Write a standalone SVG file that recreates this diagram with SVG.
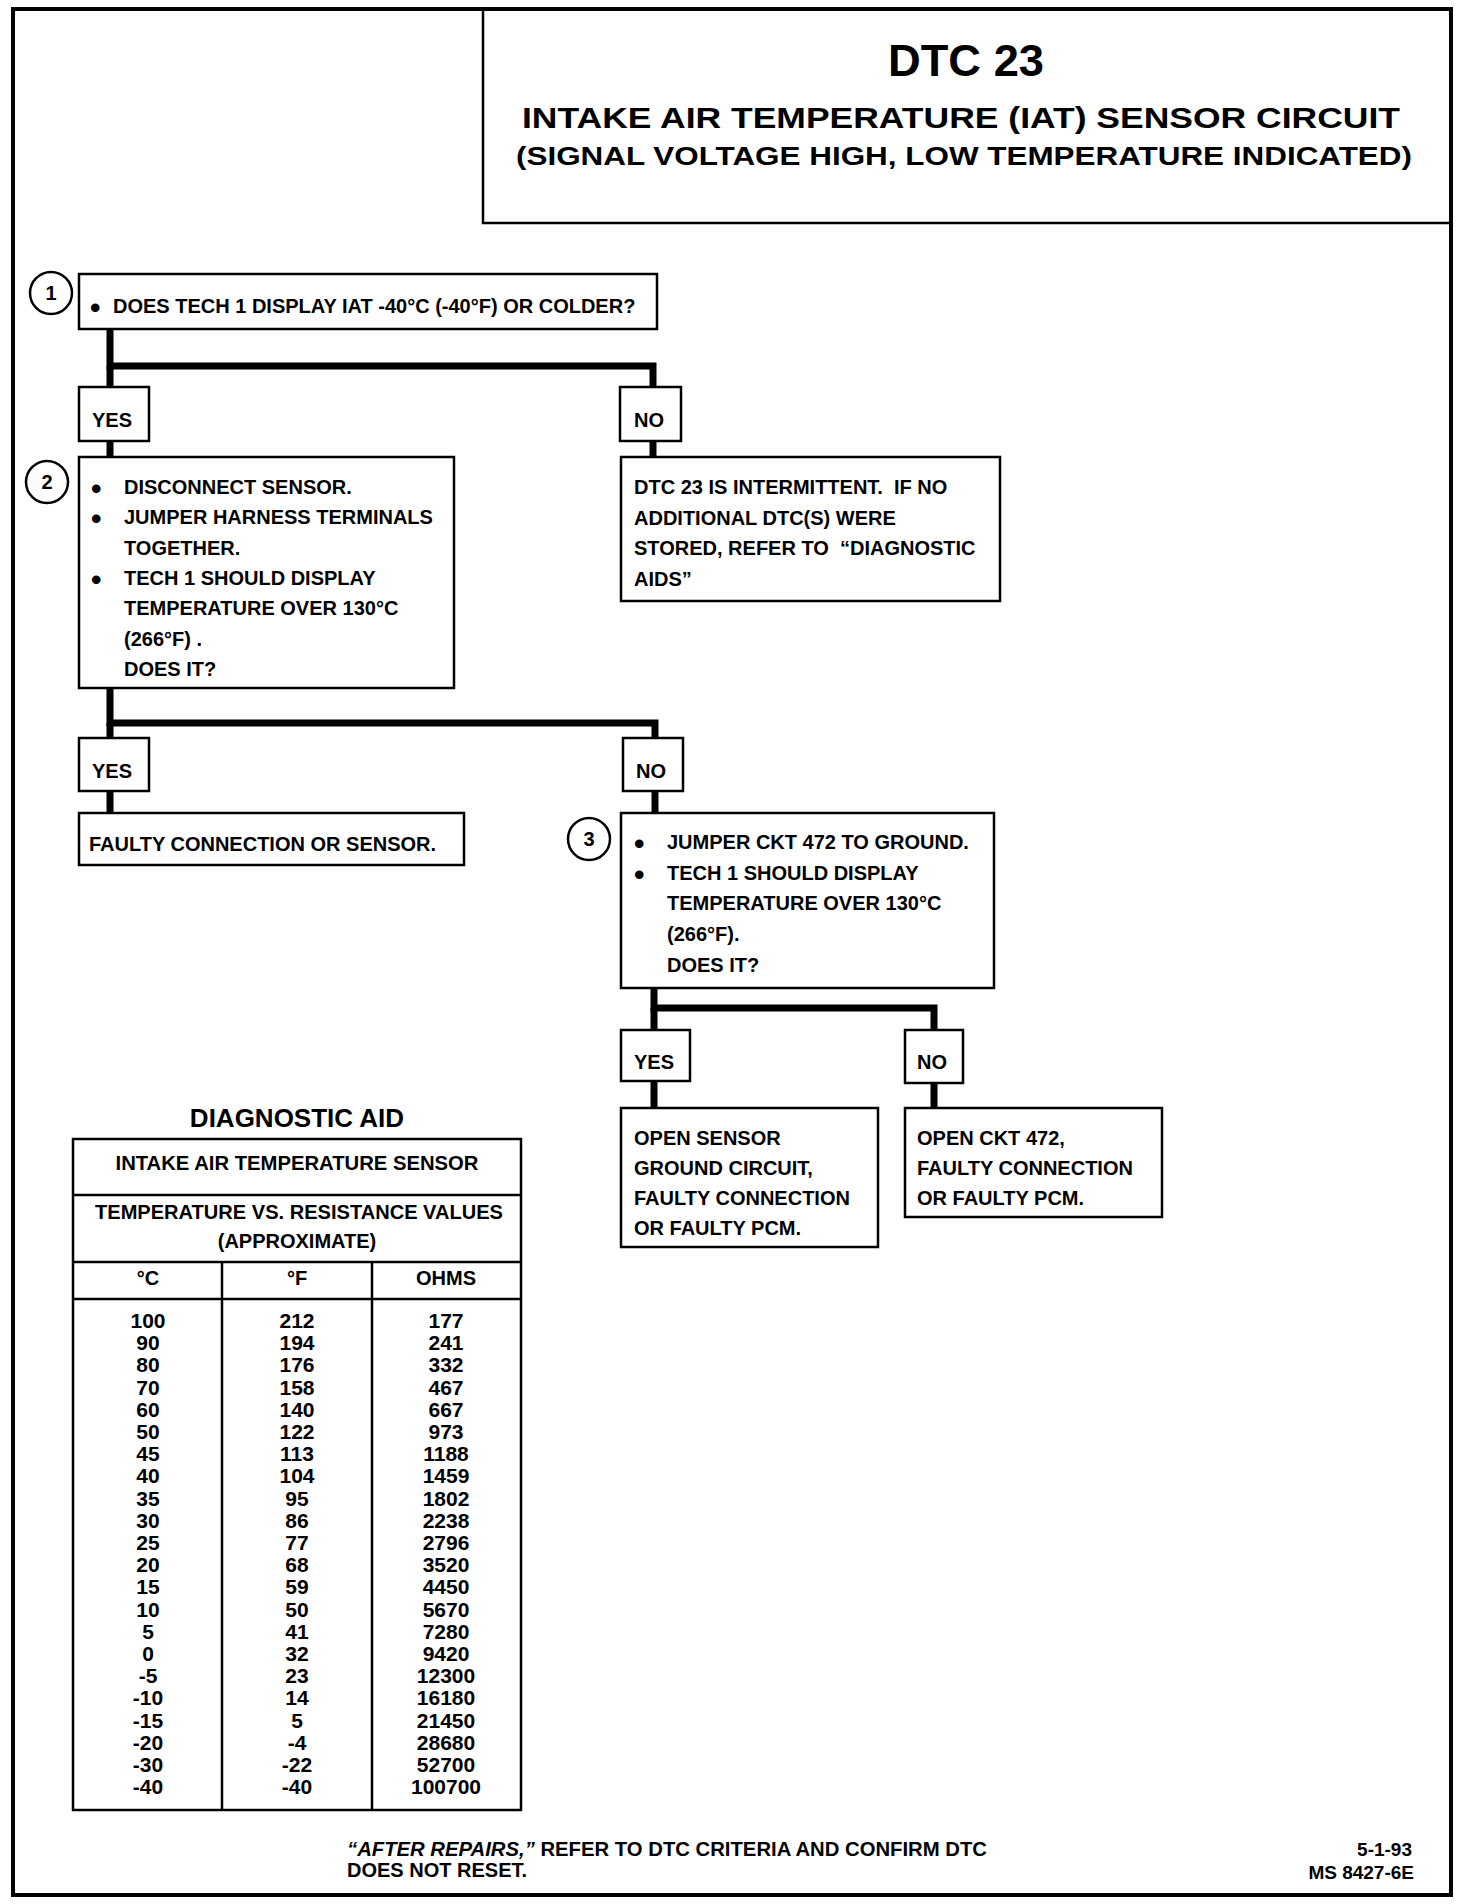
<svg xmlns="http://www.w3.org/2000/svg" width="1472" height="1904" viewBox="0 0 1472 1904">
<style>
  text { font-family: "Liberation Sans", Arial, sans-serif; font-weight: bold; fill: #000; }
  .box { fill: #fff; stroke: #000; stroke-width: 2.5; }
  .circ { fill: #fff; stroke: #000; stroke-width: 2.5; }
  .conn { fill: none; stroke: #000; stroke-width: 7; stroke-linejoin: miter; stroke-linecap: butt; }
  .b { font-size: 20px; }
  .bul { font-size: 30px; }
  .num { font-size: 20px; text-anchor: middle; }
  .tbl { font-size: 21px; text-anchor: middle; }
  .th { font-size: 20px; text-anchor: middle; }
  .grid { stroke: #000; stroke-width: 2.5; fill: none; }
</style>
<rect x="0" y="0" width="1472" height="1904" fill="#fff"/>

<g id="frame">
  <rect x="13" y="9" width="1438" height="1886" fill="none" stroke="#000" stroke-width="4"/>
</g>

<g id="title">
  <path d="M483,9 V223 H1451" fill="none" stroke="#000" stroke-width="2.5"/>
  <text x="966" y="76" font-size="45" text-anchor="middle" textLength="156" lengthAdjust="spacingAndGlyphs">DTC 23</text>
  <text x="961" y="128" font-size="29" text-anchor="middle" textLength="878" lengthAdjust="spacingAndGlyphs">INTAKE AIR TEMPERATURE (IAT) SENSOR CIRCUIT</text>
  <text x="964" y="165" font-size="25" text-anchor="middle" textLength="896" lengthAdjust="spacingAndGlyphs">(SIGNAL VOLTAGE HIGH, LOW TEMPERATURE INDICATED)</text>
</g>

<g id="connectors">
  <path class="conn" d="M110,329 V366 H653 V387"/>
  <path class="conn" d="M110,366 V387"/>
  <path class="conn" d="M110,441 V457"/>
  <path class="conn" d="M653,441 V457"/>
  <path class="conn" d="M110,688 V723 H655 V738"/>
  <path class="conn" d="M110,723 V738"/>
  <path class="conn" d="M110,791 V813"/>
  <path class="conn" d="M655,791 V813"/>
  <path class="conn" d="M654,988 V1008 H934 V1030"/>
  <path class="conn" d="M654,1008 V1030"/>
  <path class="conn" d="M654,1081 V1108"/>
  <path class="conn" d="M934,1083 V1108"/>
</g>

<g id="step1">
  <circle class="circ" cx="51" cy="293" r="21"/>
  <text class="num" x="51" y="300">1</text>
  <rect class="box" x="79" y="274" width="578" height="55"/>
  <text class="bul" x="90" y="318">•</text>
  <text class="b" x="113" y="313">DOES TECH 1 DISPLAY IAT -40°C (-40°F) OR COLDER?</text>
</g>

<g id="yes1">
  <rect class="box" x="79" y="387" width="70" height="54"/>
  <text class="b" x="92" y="427">YES</text>
</g>
<g id="no1">
  <rect class="box" x="620" y="387" width="61" height="54"/>
  <text class="b" x="634" y="427">NO</text>
</g>

<g id="step2">
  <circle class="circ" cx="47" cy="482" r="21"/>
  <text class="num" x="47" y="489">2</text>
  <rect class="box" x="79" y="457" width="375" height="231"/>
  <text class="bul" x="91" y="499">•</text>
  <text class="b" x="124" y="494">DISCONNECT SENSOR.</text>
  <text class="bul" x="91" y="529">•</text>
  <text class="b" x="124" y="524">JUMPER HARNESS TERMINALS</text>
  <text class="b" x="124" y="555">TOGETHER.</text>
  <text class="bul" x="91" y="590">•</text>
  <text class="b" x="124" y="585">TECH 1 SHOULD DISPLAY</text>
  <text class="b" x="124" y="615">TEMPERATURE OVER 130°C</text>
  <text class="b" x="124" y="646">(266°F) .</text>
  <text class="b" x="124" y="676">DOES IT?</text>
</g>

<g id="intermittent">
  <rect class="box" x="621" y="457" width="379" height="144"/>
  <text class="b" x="634" y="494" xml:space="preserve">DTC 23 IS INTERMITTENT.  IF NO</text>
  <text class="b" x="634" y="525">ADDITIONAL DTC(S) WERE</text>
  <text class="b" x="634" y="555" xml:space="preserve">STORED, REFER TO  “DIAGNOSTIC</text>
  <text class="b" x="634" y="586">AIDS”</text>
</g>

<g id="yes2">
  <rect class="box" x="79" y="738" width="70" height="53"/>
  <text class="b" x="92" y="778">YES</text>
</g>
<g id="no2">
  <rect class="box" x="623" y="738" width="60" height="53"/>
  <text class="b" x="636" y="778">NO</text>
</g>

<g id="faulty">
  <rect class="box" x="79" y="813" width="385" height="52"/>
  <text class="b" x="89" y="851">FAULTY CONNECTION OR SENSOR.</text>
</g>

<g id="step3">
  <circle class="circ" cx="589" cy="839" r="21"/>
  <text class="num" x="589" y="846">3</text>
  <rect class="box" x="621" y="813" width="373" height="175"/>
  <text class="bul" x="634" y="854">•</text>
  <text class="b" x="667" y="849">JUMPER CKT 472 TO GROUND.</text>
  <text class="bul" x="634" y="885">•</text>
  <text class="b" x="667" y="880">TECH 1 SHOULD DISPLAY</text>
  <text class="b" x="667" y="910">TEMPERATURE OVER 130°C</text>
  <text class="b" x="667" y="941">(266°F).</text>
  <text class="b" x="667" y="972">DOES IT?</text>
</g>

<g id="yes3">
  <rect class="box" x="621" y="1030" width="69" height="51"/>
  <text class="b" x="634" y="1069">YES</text>
</g>
<g id="no3">
  <rect class="box" x="905" y="1030" width="58" height="53"/>
  <text class="b" x="917" y="1069">NO</text>
</g>

<g id="opensensor">
  <rect class="box" x="621" y="1108" width="257" height="139"/>
  <text class="b" x="634" y="1145">OPEN SENSOR</text>
  <text class="b" x="634" y="1175">GROUND CIRCUIT,</text>
  <text class="b" x="634" y="1205">FAULTY CONNECTION</text>
  <text class="b" x="634" y="1235">OR FAULTY PCM.</text>
</g>

<g id="openckt">
  <rect class="box" x="905" y="1108" width="257" height="109"/>
  <text class="b" x="917" y="1145">OPEN CKT 472,</text>
  <text class="b" x="917" y="1175">FAULTY CONNECTION</text>
  <text class="b" x="917" y="1205">OR FAULTY PCM.</text>
</g>

<g id="diagnostic-aid">
  <text x="297" y="1127" font-size="26" text-anchor="middle">DIAGNOSTIC AID</text>
  <rect class="grid" x="73" y="1139" width="448" height="671"/>
  <line class="grid" x1="73" y1="1195" x2="521" y2="1195"/>
  <line class="grid" x1="73" y1="1262" x2="521" y2="1262"/>
  <line class="grid" x1="73" y1="1299" x2="521" y2="1299" stroke-width="3"/>
  <line class="grid" x1="222" y1="1262" x2="222" y2="1810"/>
  <line class="grid" x1="372" y1="1262" x2="372" y2="1810"/>
  <text class="th" x="297" y="1170" textLength="363" lengthAdjust="spacingAndGlyphs">INTAKE AIR TEMPERATURE SENSOR</text>
  <text class="th" x="299" y="1219" textLength="408" lengthAdjust="spacingAndGlyphs">TEMPERATURE VS. RESISTANCE VALUES</text>
  <text class="th" x="297" y="1248">(APPROXIMATE)</text>
  <text class="th" x="148" y="1285">°C</text>
  <text class="th" x="297" y="1285">°F</text>
  <text class="th" x="446" y="1285">OHMS</text>
  <g class="tbl">
    <text class="tbl" x="148" y="1328">100</text><text class="tbl" x="297" y="1328">212</text><text class="tbl" x="446" y="1328">177</text>
    <text class="tbl" x="148" y="1350">90</text><text class="tbl" x="297" y="1350">194</text><text class="tbl" x="446" y="1350">241</text>
    <text class="tbl" x="148" y="1372">80</text><text class="tbl" x="297" y="1372">176</text><text class="tbl" x="446" y="1372">332</text>
    <text class="tbl" x="148" y="1395">70</text><text class="tbl" x="297" y="1395">158</text><text class="tbl" x="446" y="1395">467</text>
    <text class="tbl" x="148" y="1417">60</text><text class="tbl" x="297" y="1417">140</text><text class="tbl" x="446" y="1417">667</text>
    <text class="tbl" x="148" y="1439">50</text><text class="tbl" x="297" y="1439">122</text><text class="tbl" x="446" y="1439">973</text>
    <text class="tbl" x="148" y="1461">45</text><text class="tbl" x="297" y="1461">113</text><text class="tbl" x="446" y="1461">1188</text>
    <text class="tbl" x="148" y="1483">40</text><text class="tbl" x="297" y="1483">104</text><text class="tbl" x="446" y="1483">1459</text>
    <text class="tbl" x="148" y="1506">35</text><text class="tbl" x="297" y="1506">95</text><text class="tbl" x="446" y="1506">1802</text>
    <text class="tbl" x="148" y="1528">30</text><text class="tbl" x="297" y="1528">86</text><text class="tbl" x="446" y="1528">2238</text>
    <text class="tbl" x="148" y="1550">25</text><text class="tbl" x="297" y="1550">77</text><text class="tbl" x="446" y="1550">2796</text>
    <text class="tbl" x="148" y="1572">20</text><text class="tbl" x="297" y="1572">68</text><text class="tbl" x="446" y="1572">3520</text>
    <text class="tbl" x="148" y="1594">15</text><text class="tbl" x="297" y="1594">59</text><text class="tbl" x="446" y="1594">4450</text>
    <text class="tbl" x="148" y="1617">10</text><text class="tbl" x="297" y="1617">50</text><text class="tbl" x="446" y="1617">5670</text>
    <text class="tbl" x="148" y="1639">5</text><text class="tbl" x="297" y="1639">41</text><text class="tbl" x="446" y="1639">7280</text>
    <text class="tbl" x="148" y="1661">0</text><text class="tbl" x="297" y="1661">32</text><text class="tbl" x="446" y="1661">9420</text>
    <text class="tbl" x="148" y="1683">-5</text><text class="tbl" x="297" y="1683">23</text><text class="tbl" x="446" y="1683">12300</text>
    <text class="tbl" x="148" y="1705">-10</text><text class="tbl" x="297" y="1705">14</text><text class="tbl" x="446" y="1705">16180</text>
    <text class="tbl" x="148" y="1728">-15</text><text class="tbl" x="297" y="1728">5</text><text class="tbl" x="446" y="1728">21450</text>
    <text class="tbl" x="148" y="1750">-20</text><text class="tbl" x="297" y="1750">-4</text><text class="tbl" x="446" y="1750">28680</text>
    <text class="tbl" x="148" y="1772">-30</text><text class="tbl" x="297" y="1772">-22</text><text class="tbl" x="446" y="1772">52700</text>
    <text class="tbl" x="148" y="1794">-40</text><text class="tbl" x="297" y="1794">-40</text><text class="tbl" x="446" y="1794">100700</text>
  </g>
</g>

<g id="footer">
  <text x="347" y="1856" font-size="20" textLength="640" lengthAdjust="spacingAndGlyphs"><tspan font-style="italic">“AFTER REPAIRS,”</tspan> REFER TO DTC CRITERIA AND CONFIRM DTC</text>
  <text x="347" y="1877" font-size="20">DOES NOT RESET.</text>
  <text x="1412" y="1856" font-size="19" text-anchor="end">5-1-93</text>
  <text x="1414" y="1879" font-size="19" text-anchor="end">MS 8427-6E</text>
</g>
</svg>
